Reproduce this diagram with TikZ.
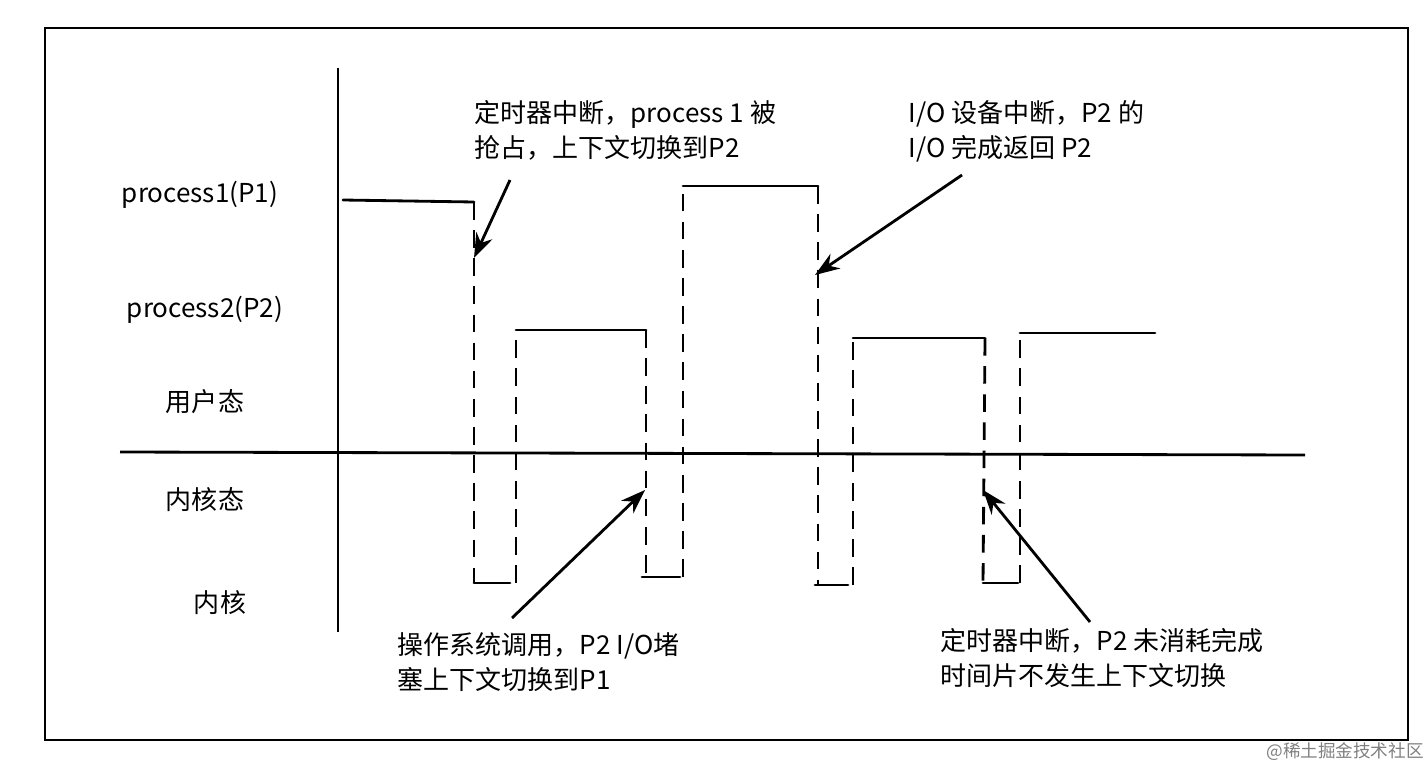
\documentclass[tikz,border=0pt]{standalone}
\usepackage{fontspec}
\setmainfont{Noto Sans CJK SC}
\usetikzlibrary{positioning,arrows.meta}
\tikzstyle{lbl}=[inner sep=0pt, font=\fontsize{7.4}{10}\selectfont]
\tikzstyle{note}=[lbl, anchor=north west, align=left]
\tikzstyle{wave}=[thick, line cap=round]
\tikzstyle{dline}=[thick, dashed, dash pattern=on 5pt off 3pt]
\tikzstyle{callout}=[thick, -{Stealth[length=7pt,width=5pt]}]
\begin{document}
\begin{tikzpicture}[x=0.01cm, y=-0.01cm]
\useasboundingbox (0,0) rectangle (1428,770);
\draw[thick] (45,28) rectangle (1408,740);
% axes
\draw[thick] (338,68) -- (338,632);
\draw[thick] (120,452) -- (1305,455);
% level labels
\node[lbl] (P1L) at (200,195) {process1(P1)};
\node[lbl] (P2L) at (205,310) {process2(P2)};
\node[lbl] (USR) at (205,402) {用户态};
\node[lbl] (KRN) at (205,500) {内核态};
\node[lbl] (KER) at (220,603) {内核};
% waveform
\coordinate (a1) at (343,200); \coordinate (a2) at (474,202);
\coordinate (a3) at (474,583); \coordinate (a4) at (510,583);
\coordinate (b1) at (516,583); \coordinate (b2) at (516,330);
\coordinate (b3) at (646,330); \coordinate (b4) at (646,577);
\coordinate (c1) at (642,577); \coordinate (c2) at (680,577);
\coordinate (c3) at (683,577); \coordinate (c4) at (683,186);
\coordinate (c5) at (818,186); \coordinate (c6) at (818,585);
\coordinate (d1) at (815,585); \coordinate (d2) at (848,585);
\coordinate (d3) at (853,585); \coordinate (d4) at (853,338);
\coordinate (d5) at (985,338); \coordinate (d6) at (983,583);
\coordinate (e1) at (983,583); \coordinate (e2) at (1018,583);
\coordinate (e3) at (1020,583); \coordinate (e4) at (1020,333);
\coordinate (e5) at (1155,333);
\draw[wave] (a1) -- (a2);
\draw[dline] (a2) -- (a3);
\draw[wave] (a3) -- (a4);
\draw[dline] (b1) -- (b2);
\draw[wave] (b2) -- (b3);
\draw[dline] (b3) -- (b4);
\draw[wave] (c1) -- (c2);
\draw[dline] (c3) -- (c4);
\draw[wave] (c4) -- (c5);
\draw[dline] (c5) -- (c6);
\draw[wave] (d1) -- (d2);
\draw[dline] (d3) -- (d4);
\draw[wave] (d4) -- (d5);
\draw[dline] (d5) -- (d6);
\draw[wave] (e1) -- (e2);
\draw[dline] (e3) -- (e4);
\draw[wave] (e4) -- (e5);
% notes
\node[note] (N1) at (474,100) {定时器中断，process 1 被\\抢占，上下文切换到P2};
\node[note] (N2) at (908,100) {I/O 设备中断，P2 的\\I/O 完成返回 P2};
\node[note] (N3) at (397,632) {操作系统调用，P2 I/O堵\\塞上下文切换到P1};
\node[note] (N4) at (940,628) {定时器中断，P2 未消耗完成\\时间片不发生上下文切换};
\coordinate (t1) at (510,180); \coordinate (h1) at (474,258);
\coordinate (t2) at (962,175); \coordinate (h2) at (815,275);
\coordinate (t3) at (512,618); \coordinate (h3) at (645,490);
\coordinate (t4) at (1090,622); \coordinate (h4) at (983,490);
\draw[callout] (t1) -- (h1);
\draw[callout] (t2) -- (h2);
\draw[callout] (t3) -- (h3);
\draw[callout] (t4) -- (h4);
\node[lbl, text=gray, font=\fontsize{5}{6}\selectfont] (WM) at (1345,752) {@稀土掘金技术社区};
\end{tikzpicture}
\end{document}
